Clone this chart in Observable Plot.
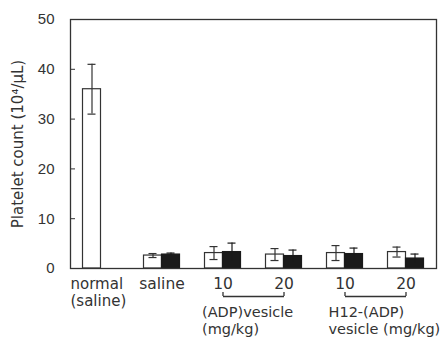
<!DOCTYPE html>
<html>
<head>
<meta charset="utf-8">
<script src="https://cdn.jsdelivr.net/npm/d3@7"></script>
<script src="https://cdn.jsdelivr.net/npm/@observablehq/plot@0.6"></script>
<style>
  html, body { margin: 0; padding: 0; background: #fff; }
  #chart { width: 448px; height: 338px; }
</style>
</head>
<body>
<div id="chart"></div>
<script>
// Groups (x categories)
const groups = ["normal", "saline", "ADP10", "ADP20", "H12_10", "H12_20"];
const groupLabels = ["normal\n(saline)", "saline", "10", "20", "10", "20"];
// White bars (mean, sd)
const whiteMean = [36, 2.6, 3.1, 2.8, 3.1, 3.3];
const whiteErr  = [5, 0.4, 1.3, 1.2, 1.5, 1.0];
// Black bars (mean, sd); none for "normal"
const blackMean = [null, 2.8, 3.3, 2.5, 2.9, 2.0];
const blackErr  = [null, 0.3, 1.8, 1.2, 1.2, 0.9];
// Y ticks
const yTicks = [0, 10, 20, 30, 40, 50];
// Brackets under dose pairs
const bracketFrom = ["ADP10", "H12_10"];
const bracketTo = ["ADP20", "H12_20"];
const bracketLabels = ["(ADP)vesicle\n(mg/kg)", "H12-(ADP)\nvesicle (mg/kg)"];

const white = groups.map((g, i) => ({g, v: whiteMean[i], lo: whiteMean[i] - whiteErr[i], hi: whiteMean[i] + whiteErr[i]}));
const black = groups.map((g, i) => ({g, v: blackMean[i], lo: blackMean[i] - blackErr[i], hi: blackMean[i] + blackErr[i]}))
  .filter(d => d.v != null);
const labels = groups.map((g, i) => ({g, label: groupLabels[i]}));
const brackets = bracketFrom.map((f, i) => ({from: f, to: bracketTo[i], label: bracketLabels[i]}));
const bracketEnds = bracketFrom.concat(bracketTo);

const ink = "#333";
const textFont = "DejaVu Sans, sans-serif";

const chart = Plot.plot({
  width: 448,
  height: 338,
  marginTop: 19,
  marginBottom: 70,
  marginLeft: 70,
  marginRight: 12,
  style: {fontFamily: "Liberation Sans, Arial, sans-serif", fontSize: "15px", color: ink, background: "#fff"},
  x: {domain: groups, padding: 0, axis: null},
  y: {domain: [0, 50], axis: null},
  marks: [
    // bars
    Plot.barY(white, {x: "g", y: "v", fill: "#fff", stroke: ink, strokeWidth: 1.2, insetLeft: 12.5, insetRight: 30.5}),
    Plot.barY(black, {x: "g", y: "v", fill: "#1a1a1a", stroke: "#1a1a1a", strokeWidth: 1.2, insetLeft: 30.5, insetRight: 12.5}),
    // error bars
    Plot.ruleX(white, {x: "g", y1: "lo", y2: "hi", stroke: ink, strokeWidth: 1.2, dx: -9}),
    Plot.tickY(white, {x: "g", y: "hi", stroke: ink, strokeWidth: 1.2, insetLeft: 17.5, insetRight: 35.5}),
    Plot.tickY(white, {x: "g", y: "lo", stroke: ink, strokeWidth: 1.2, insetLeft: 17.5, insetRight: 35.5}),
    Plot.ruleX(black, {x: "g", y1: "lo", y2: "hi", stroke: "#1a1a1a", strokeWidth: 1.2, dx: 9}),
    Plot.tickY(black, {x: "g", y: "hi", stroke: "#1a1a1a", strokeWidth: 1.2, insetLeft: 35.5, insetRight: 17.5}),
    // frame and y axis
    Plot.frame({stroke: ink, strokeWidth: 1.3}),
    Plot.axisY({ticks: yTicks, tickSize: -5, tickPadding: 21, stroke: ink, fill: ink, fontSize: 15, label: null}),
    // y label
    Plot.text(["Platelet count (10\u2074/\u03bcL)"], {frameAnchor: "left", textAnchor: "middle", rotate: -90, dx: -52, fontSize: 15, fill: ink, fontFamily: textFont}),
    // x labels
    Plot.text(labels.filter(d => d.g === "normal"), {x: "g", y: 0, text: "label", textAnchor: "start", dx: -30.5, dy: 8, lineAnchor: "top", lineHeight: 1.15, fontSize: 15, fill: ink, fontFamily: textFont}),
    Plot.text(labels.filter(d => d.g !== "normal"), {x: "g", y: 0, text: "label", dy: 8, lineAnchor: "top", lineHeight: 1.15, fontSize: 15.5, fill: ink, fontFamily: textFont}),
    // brackets
    Plot.link(brackets, {x1: "from", x2: "to", y1: 0, y2: 0, dy: 28, stroke: ink, strokeWidth: 1.3}),
    Plot.ruleX(bracketEnds, {x: d => d, y1: 0, y2: 0, insetTop: -4, dy: 28, stroke: ink, strokeWidth: 1.3}),
    Plot.text(brackets.slice(0, 1), {x: "from", y: 0, text: "label", textAnchor: "start", dx: -21, dy: 37, lineAnchor: "top", lineHeight: 1.15, fontSize: 14.5, fill: ink, fontFamily: textFont}),
    Plot.text(brackets.slice(1), {x: "from", y: 0, text: "label", textAnchor: "start", dx: -16.5, dy: 37, lineAnchor: "top", lineHeight: 1.15, fontSize: 14.5, fill: ink, fontFamily: textFont})
  ]
});
document.getElementById("chart").appendChild(chart);
</script>
</body>
</html>
